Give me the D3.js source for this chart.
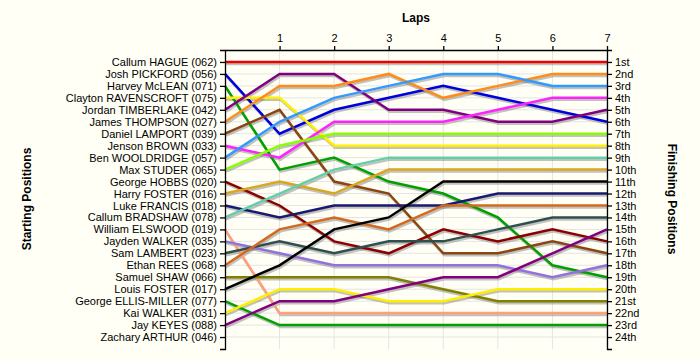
<!DOCTYPE html>
<html>
<head>
<meta charset="utf-8">
<script src="https://cdn.jsdelivr.net/npm/d3@7"></script>
<style>
  body { margin: 0; background: #fffff6; }
  text { font-family: "Liberation Sans", Arial, sans-serif; }
</style>
</head>
<body>
<div id="chart"></div>
<script>
var svgWidth = 700;
var svgHeight = 360;

var laps = [0, 1, 2, 3, 4, 5, 6, 7];

var drivers = [
  "Callum HAGUE (062)", "Josh PICKFORD (056)", "Harvey McLEAN (071)",
  "Clayton RAVENSCROFT (075)", "Jordan TIMBERLAKE (042)", "James THOMPSON (027)",
  "Daniel LAMPORT (039)", "Jenson BROWN (033)", "Ben WOOLDRIDGE (057)",
  "Max STUDER (065)", "George HOBBS (020)", "Harry FOSTER (016)",
  "Luke FRANCIS (018)", "Callum BRADSHAW (078)", "William ELSWOOD (019)",
  "Jayden WALKER (035)", "Sam LAMBERT (023)", "Ethan REES (068)",
  "Samuel SHAW (066)", "Louis FOSTER (017)", "George ELLIS-MILLER (077)",
  "Kai WALKER (031)", "Jay KEYES (088)", "Zachary ARTHUR (046)"
];

var finishLabels = ["1st", "2nd", "3rd", "4th", "5th", "6th", "7th", "8th", "9th",
  "10th", "11th", "12th", "13th", "14th", "15th", "16th", "17th", "18th", "19th",
  "20th", "21st", "22nd", "23rd", "24th"];

// position of each driver at lap 0..7 (null = no lap data)
var positions = [
  [1, 1, 1, 1, 1, 1, 1, 1],
  [2, 7, 5, 4, 3, 4, 5, 6],
  [3, 10, 9, 11, 12, 14, 18, 19],
  [4, 4, 8, 8, 8, 8, 8, 8],
  [5, 2, 2, 5, 5, 6, 6, 5],
  [6, 3, 3, 2, 4, 3, 2, 2],
  [7, 5, 11, 12, 17, 17, 16, 17],
  [8, 9, 6, 6, 6, 5, 4, 4],
  [9, 6, 4, 3, 2, 2, 3, 3],
  [10, 8, 7, 7, 7, 7, 7, 7],
  [11, 13, 16, 17, 15, 16, 15, 16],
  [12, 11, 12, 10, 10, 10, 10, 10],
  [13, 14, 13, 13, 13, 12, 12, 12],
  [14, 12, 10, 9, 9, 9, 9, 9],
  [15, 22, 22, 22, 22, 22, 22, 22],
  [16, 17, 18, 18, 18, 18, 19, 18],
  [17, 16, 17, 16, 16, 15, 14, 14],
  [18, 15, 14, 15, 13, 13, 13, 13],
  [19, 19, 19, 19, 20, 21, 21, 21],
  [20, 18, 15, 14, 11, 11, 11, 11],
  [21, 23, 23, 23, 23, 23, 23, 23],
  [22, 20, 20, 21, 21, 20, 20, 20],
  [23, 21, 21, 20, 19, 19, 17, 15],
  null
];

var colors = [
  "#ee0000", "#0000dd", "#00a000", "#ffee00", "#800080", "#ff8c1a",
  "#8b4513", "#ff22ff", "#3399ff", "#88ff00", "#8b0000", "#daa520",
  "#191970", "#66cdaa", "#ffa07a", "#9370db", "#2f4f4f", "#d2691e",
  "#808000", "#000000", "#00a000", "#ffee00", "#800080", "#cccccc"
];

var svg = d3.select("#chart")
  .append("svg")
  .attr("width", svgWidth)
  .attr("height", svgHeight);

var xScale = d3.scaleLinear().domain([0, 7]).range([225, 607]);
var yScale = d3.scaleLinear().domain([0, 25]).range([50, 349]);

// gridlines
svg.append("g").selectAll("line.h")
  .data(d3.range(1, 25))
  .enter().append("line")
  .attr("x1", xScale(0)).attr("x2", xScale(7))
  .attr("y1", d => yScale(d)).attr("y2", d => yScale(d))
  .attr("stroke", "#e4e4e4");

svg.append("g").selectAll("line.v")
  .data(laps.slice(1))
  .enter().append("line")
  .attr("x1", d => xScale(d)).attr("x2", d => xScale(d))
  .attr("y1", yScale(0)).attr("y2", yScale(25))
  .attr("stroke", "#e4e4e4");

var line = d3.line()
  .x((d, i) => xScale(laps[i]))
  .y(d => yScale(d));

var raced = positions.map((p, i) => ({ p: p, c: colors[i] })).filter(d => d.p);

// shadows
svg.append("g")
  .attr("transform", "translate(1,2)")
  .selectAll("path")
  .data(raced)
  .enter().append("path")
  .attr("d", d => line(d.p))
  .attr("fill", "none")
  .attr("stroke", "#777")
  .attr("stroke-opacity", 0.45)
  .attr("stroke-width", 2.5);

svg.append("g")
  .selectAll("path")
  .data(raced)
  .enter().append("path")
  .attr("d", d => line(d.p))
  .attr("fill", "none")
  .attr("stroke", d => d.c)
  .attr("stroke-width", 2.5);

// axes
var leftAxis = d3.axisLeft(yScale)
  .tickValues(d3.range(1, 25))
  .tickFormat(d => drivers[d - 1])
  .tickSize(5).tickPadding(3);

var rightAxis = d3.axisRight(yScale)
  .tickValues(d3.range(1, 25))
  .tickFormat(d => finishLabels[d - 1])
  .tickSize(5).tickPadding(3);

var topAxis = d3.axisTop(xScale)
  .tickValues(laps.slice(1))
  .tickFormat(d3.format("d"))
  .tickSize(4).tickSizeOuter(0).tickPadding(4);

function styleAxis(g) {
  g.selectAll("text").attr("font-size", "11px").attr("fill", "#000")
    .attr("font-family", "'Liberation Sans', Arial, sans-serif");
  g.selectAll("path, line").attr("stroke", "#000").attr("stroke-width", 1.3);
}

svg.append("g").attr("transform", `translate(${xScale(0)},0)`).call(leftAxis).call(styleAxis);
svg.append("g").attr("transform", `translate(${xScale(7)},0)`).call(rightAxis).call(styleAxis);
svg.append("g").attr("transform", `translate(0,${yScale(0)})`).call(topAxis).call(styleAxis);

// titles
svg.append("text")
  .attr("x", 416).attr("y", 22)
  .attr("text-anchor", "middle")
  .attr("font-size", "12px").attr("font-weight", "bold")
  .text("Laps");

svg.append("text")
  .attr("transform", "translate(31,199) rotate(-90)")
  .attr("text-anchor", "middle")
  .attr("font-size", "12px").attr("font-weight", "bold")
  .text("Starting Positions");

svg.append("text")
  .attr("transform", "translate(668,199) rotate(90)")
  .attr("text-anchor", "middle")
  .attr("font-size", "12px").attr("font-weight", "bold")
  .text("Finishing Positions");
</script>
</body>
</html>
